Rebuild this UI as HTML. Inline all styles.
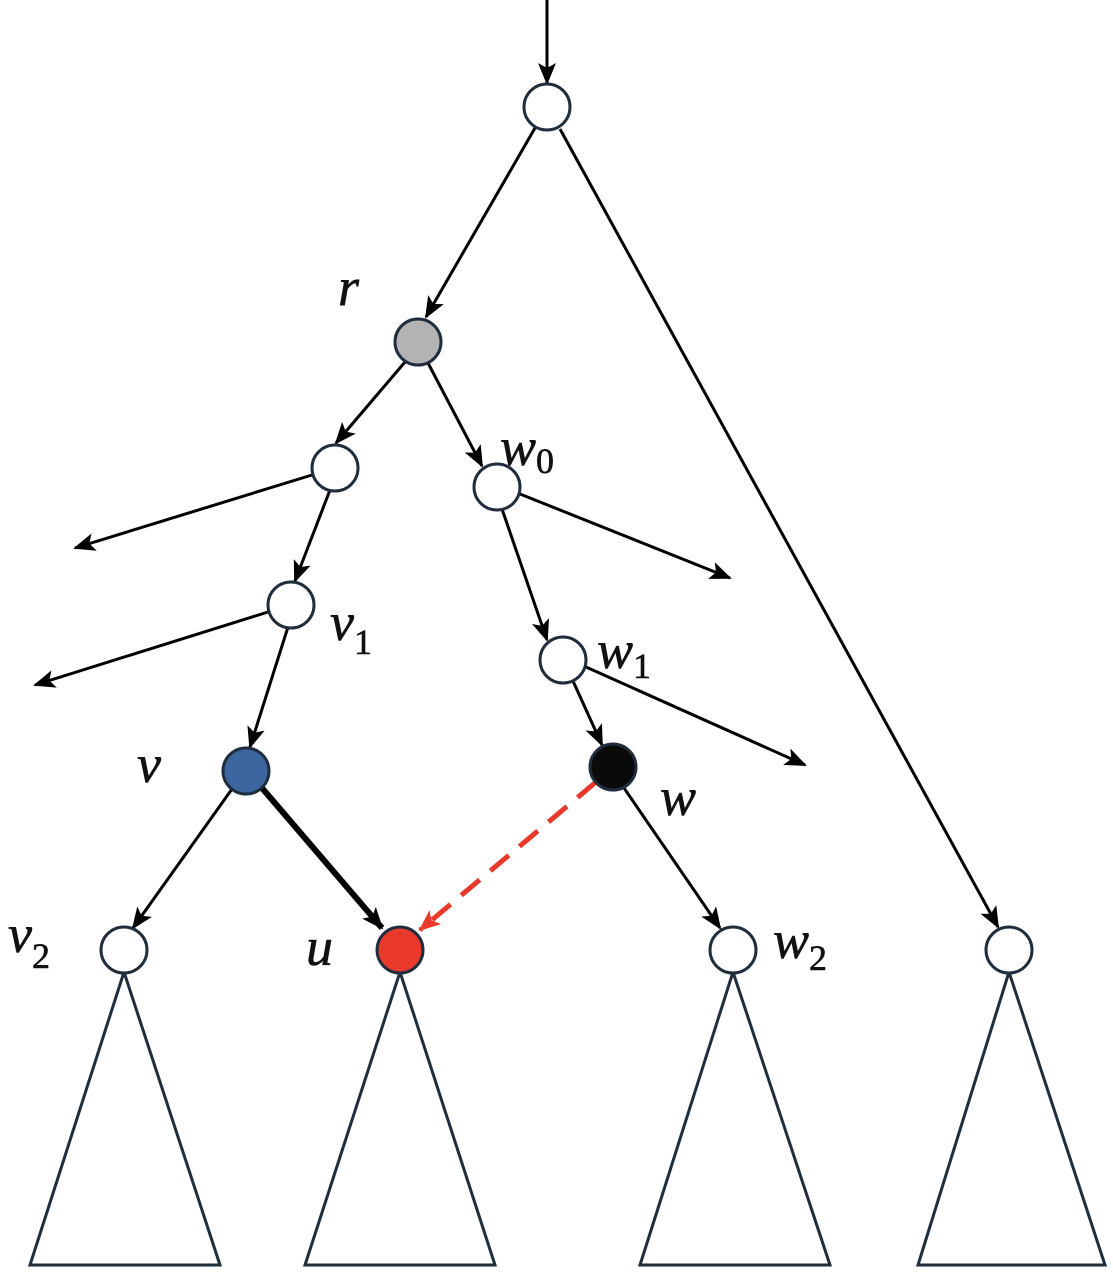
<!DOCTYPE html>
<html><head><meta charset="utf-8"><style>
html,body{margin:0;padding:0;background:#fff;}
svg{display:block;}
text{font-family:"Liberation Serif",serif;font-style:italic;font-size:54px;fill:#111;stroke:#111;stroke-width:0.6;}
.s{font-size:36px;font-style:normal;}
</style></head><body>
<svg width="1113" height="1280" viewBox="0 0 1113 1280" xmlns="http://www.w3.org/2000/svg">
<defs>
<marker id="ab" markerWidth="22" markerHeight="22" refX="20" refY="11" orient="auto" markerUnits="userSpaceOnUse" viewBox="0 0 22 22"><path d="M0,2 L22,11 L0,20 L5,11 z" fill="#000"/></marker>
<marker id="ar" markerWidth="22" markerHeight="22" refX="20" refY="11" orient="auto" markerUnits="userSpaceOnUse" viewBox="0 0 22 22"><path d="M0,2 L22,11 L0,20 L5,11 z" fill="#e8392a"/></marker>
</defs>
<g stroke="#000" stroke-width="3" fill="none">
<line x1="547" y1="0" x2="547" y2="83" marker-end="url(#ab)"/>
<line x1="535" y1="128" x2="426" y2="317" marker-end="url(#ab)"/>
<line x1="560" y1="129" x2="998" y2="927" marker-end="url(#ab)"/>
<line x1="405" y1="362" x2="336" y2="443" marker-end="url(#ab)"/>
<line x1="428" y1="363" x2="482" y2="466" marker-end="url(#ab)"/>
<line x1="312" y1="475" x2="75" y2="548" marker-end="url(#ab)"/>
<line x1="330" y1="490" x2="295" y2="581" marker-end="url(#ab)"/>
<line x1="268" y1="612" x2="35" y2="685" marker-end="url(#ab)"/>
<line x1="288" y1="627" x2="250" y2="747" marker-end="url(#ab)"/>
<line x1="520" y1="494" x2="730" y2="578" marker-end="url(#ab)"/>
<line x1="502" y1="509" x2="547" y2="640" marker-end="url(#ab)"/>
<line x1="586" y1="667" x2="805" y2="765" marker-end="url(#ab)"/>
<line x1="573" y1="681" x2="602" y2="745" marker-end="url(#ab)"/>
<line x1="232" y1="789" x2="133" y2="928" marker-end="url(#ab)"/>
<line x1="624" y1="788" x2="720" y2="928" marker-end="url(#ab)"/>
</g>
<line x1="262" y1="788" x2="382" y2="928" stroke="#000" stroke-width="6" marker-end="url(#ab)"/>
<line x1="596" y1="782" x2="420" y2="930" stroke="#e8392a" stroke-width="5" stroke-dasharray="24,14" marker-end="url(#ar)"/>
<g stroke="#1f2d3d" stroke-width="3" fill="#fff">
<polygon points="124,972 30,1265 220,1265"/>
<polygon points="400,972 305,1265 495,1265"/>
<polygon points="733,972 640,1265 830,1265"/>
<polygon points="1009,972 918,1265 1105,1265"/>
<circle cx="547" cy="107" r="23"/>
<circle cx="418" cy="342" r="23" fill="#b3b3b3"/>
<circle cx="335" cy="468" r="23"/>
<circle cx="497" cy="487" r="23"/>
<circle cx="291" cy="605" r="23"/>
<circle cx="563" cy="660" r="23"/>
<circle cx="246" cy="771" r="23" fill="#3d66a0"/>
<circle cx="613" cy="767" r="23" fill="#0a0a0a"/>
<circle cx="124" cy="950" r="23"/>
<circle cx="400" cy="950" r="23" fill="#e8392a"/>
<circle cx="733" cy="950" r="23"/>
<circle cx="1009" cy="950" r="23"/>
</g>
<text x="338" y="305">r</text>
<text x="500" y="465">w<tspan class="s" dy="8">0</tspan></text>
<text x="330" y="640">v<tspan class="s" dy="14">1</tspan></text>
<text x="597" y="668">w<tspan class="s" dy="10">1</tspan></text>
<text x="137" y="782">v</text>
<text x="660" y="815">w</text>
<text x="8" y="952">v<tspan class="s" dy="16">2</tspan></text>
<text x="306" y="965">u</text>
<text x="773" y="958">w<tspan class="s" dy="12">2</tspan></text>
</svg>
</body></html>
